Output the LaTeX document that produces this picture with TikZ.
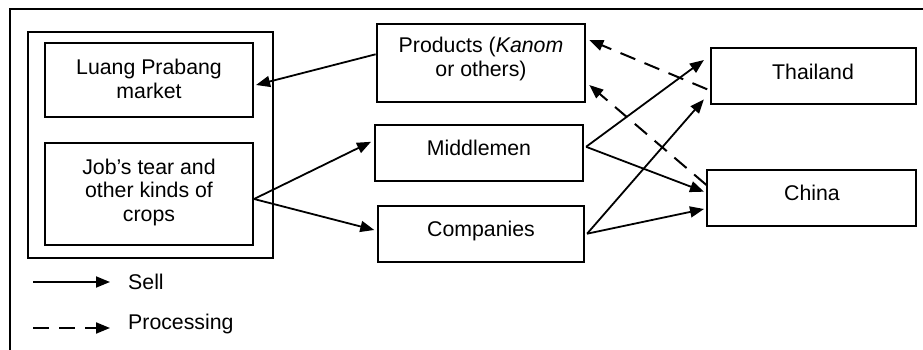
\documentclass[tikz,border=0pt]{standalone}
\usepackage{fontspec}
\setmainfont{Liberation Sans}
\usetikzlibrary{arrows.meta,calc}
\begin{document}
\begin{tikzpicture}[x=1pt,y=-1pt,
  box/.style={draw,line width=2.1pt,inner sep=0pt},
  txt/.style={align=center,font=\fontsize{21.3}{23.5}\selectfont,inner sep=0pt},
  sell/.style={line width=1.8pt,-{Triangle[length=14pt,width=11pt]}},
  proc/.style={sell,line width=2pt,dash pattern=on 16pt off 10pt}]
\useasboundingbox (0,0) rectangle (923,350);
\draw[line width=2pt] (10,350) -- (10,9) -- (923,9);
% group box and its members
\node[box,minimum width=245.3pt,minimum height=226.3pt] (grp) at (150.3,144.8) {};
\node[box,minimum width=208pt,minimum height=74.7pt] (lp) at (149,80) {};
\node[box,minimum width=208pt,minimum height=102pt] (job) at (149,194) {};
\node[txt] (lpt) at (149,79) {Luang Prabang\\market};
\node[txt] (jobt) at (149,192) {Job’s tear and\\other kinds of\\crops};
% middle column
\node[box,minimum width=208.3pt,minimum height=77.7pt] (prod) at (480.8,62.8) {};
\node[box,minimum width=208.3pt,minimum height=55.7pt] (mid) at (479.2,152.8) {};
\node[box,minimum width=205.7pt,minimum height=56pt] (comp) at (481.2,233.7) {};
\node[txt] (prodt) at (481,59) {Products (\textit{Kanom}\\or others)};
\node[txt] (midt) at (479,148) {Middlemen};
\node[txt] (compt) at (481,231) {Companies};
% right column
\node[box,minimum width=205.3pt,minimum height=55.7pt] (thai) at (813.3,76.2) {};
\node[box,minimum width=208.7pt,minimum height=55.7pt] (china) at (811.7,197.8) {};
\node[txt] (thait) at (813,72) {Thailand};
\node[txt] (chinat) at (812,193) {China};
% sell connectors
\draw[sell] ($(prod.west)+(0,-8.5)$) -- ($(lp.east)+(2,5)$);
\draw[sell] ($(job.east)+(0,5)$) -- ($(mid.west)+(-3,-11)$);
\draw[sell] ($(job.east)+(0,5)$) -- ($(comp.west)+(-3,-3.7)$);
\draw[sell] ($(mid.east)+(1.7,-6)$) -- ($(thai.west)+(-5.7,-16.2)$);
\draw[sell] ($(mid.east)+(1.7,-6)$) -- ($(china.west)+(-2.3,-6.1)$);
\draw[sell] ($(comp.east)+(2,0)$) -- ($(thai.south west)+(-5.7,-5.7)$);
\draw[sell] ($(comp.east)+(2,0)$) -- ($(china.west)+(-2.3,11.2)$);
% processing connectors
\draw[proc] ($(thai.west)+(-2.4,13.1)$) -- ($(prod.east)+(3.3,-22.8)$);
\draw[proc] ($(china.north west)+(0,16)$) -- ($(prod.east)+(3.3,22.2)$);
% legend
\coordinate (s1) at (33,282);
\coordinate (s2) at (110,282);
\coordinate (p1) at (33,328);
\coordinate (p2) at (110,328);
\draw[sell] (s1) -- (s2);
\draw[proc] (p1) -- (p2);
\node[txt,anchor=west] (sellt) at (128,282) {Sell};
\node[txt,anchor=west] (proct) at (128,324) {Processing};
\end{tikzpicture}
\end{document}
